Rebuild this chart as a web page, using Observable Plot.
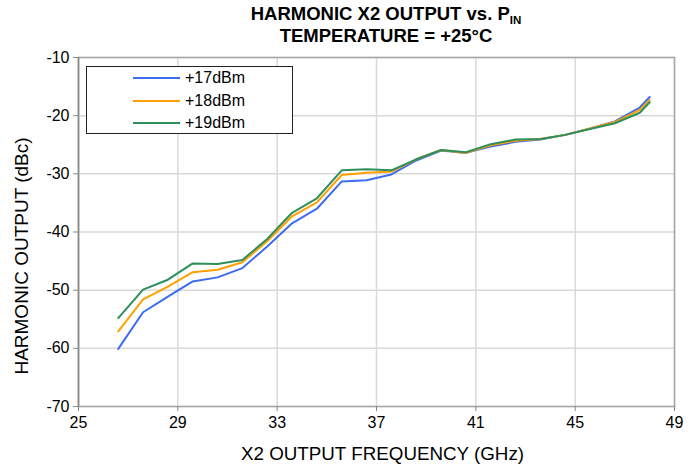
<!DOCTYPE html>
<html>
<head>
<meta charset="utf-8">
<script src="https://cdn.jsdelivr.net/npm/d3@7"></script>
<script src="https://cdn.jsdelivr.net/npm/@observablehq/plot@0.6"></script>
<style>
  html, body { margin: 0; padding: 0; background: #fff; }
  #wrap { position: relative; width: 699px; height: 467px; font-family: "Liberation Sans", Arial, sans-serif; }
  #title { position: absolute; left: 0; width: 772px; top: 3px; text-align: center; font-weight: bold; font-size: 18.5px; line-height: 22px; color: #000; }
  #title sub { font-size: 11.5px; vertical-align: -4px; line-height: 0; }
  #legend { position: absolute; left: 86px; top: 66px; width: 207px; height: 68px; border: 1px solid #222; background: #fff; box-sizing: border-box; }
  .row { position: absolute; left: 0; height: 20px; display: flex; align-items: center; font-size: 16px; color: #000; }
  .sw { position: absolute; left: 46px; width: 47px; height: 2px; }
  .lab { position: absolute; left: 98px; white-space: nowrap; }
  #chart svg { display: block; }
</style>
</head>
<body>
<div id="wrap">
  <div id="chart"></div>
  <div id="title">HARMONIC X2 OUTPUT vs. P<sub>IN</sub><br>TEMPERATURE = +25°C</div>
  <div id="legend"></div>
</div>
<script>
const freq = [26.6,27.6,28.6,29.6,30.6,31.6,32.6,33.6,34.6,35.6,36.6,37.6,38.6,39.6,40.6,41.6,42.6,43.6,44.6,45.6,46.6,47.6,48.0];
const p17 = [-60.1,-53.8,-51.1,-48.5,-47.8,-46.2,-42.5,-38.5,-36.0,-31.3,-31.1,-30.1,-27.7,-26.0,-26.4,-25.3,-24.5,-24.1,-23.3,-22.2,-21.0,-18.6,-16.8];
const p18 = [-57.1,-51.6,-49.4,-46.9,-46.5,-45.2,-41.6,-37.3,-34.9,-30.2,-29.8,-29.6,-27.5,-25.9,-26.4,-25.1,-24.3,-24.0,-23.3,-22.2,-21.1,-19.0,-17.3];
const p19 = [-54.8,-49.9,-48.2,-45.4,-45.5,-44.8,-41.2,-36.7,-34.2,-29.4,-29.2,-29.4,-27.5,-25.9,-26.3,-24.9,-24.1,-24.0,-23.3,-22.3,-21.3,-19.5,-17.7];
const seriesNames = ["+17dBm", "+18dBm", "+19dBm"];
const seriesColors = ["#3d6cf2", "#ffa000", "#2e8f5c"];
const xTicks = [25,29,33,37,41,45,49];
const yTicks = [-70,-60,-50,-40,-30,-20,-10];

const seriesVals = [p17, p18, p19];
const data = [];
seriesNames.forEach((s, i) => freq.forEach((f, j) => data.push({series: s, f, v: seriesVals[i][j]})));

const chart = Plot.plot({
  width: 699,
  height: 467,
  marginLeft: 78,
  marginRight: 25,
  marginTop: 57,
  marginBottom: 61,
  style: { fontFamily: "Liberation Sans, Arial, sans-serif", fontSize: "16px", color: "#000", background: "#fff" },
  x: { domain: [25, 49], ticks: xTicks, label: null },
  y: { domain: [-70, -10], ticks: yTicks, label: null },
  color: { domain: seriesNames, range: seriesColors },
  marks: [
    Plot.gridX(xTicks, { stroke: "#d9d9d9", strokeOpacity: 1, strokeWidth: 1.5 }),
    Plot.gridY(yTicks, { stroke: "#d9d9d9", strokeOpacity: 1, strokeWidth: 1.5 }),
    Plot.frame({ stroke: "#a6a6a6", strokeWidth: 1.5 }),
    Plot.axisX(xTicks, { tickSize: 5, tickPadding: 5, fontSize: 16, stroke: "#888", fill: "#000", tickFormat: d => String(d) }),
    Plot.axisY(yTicks, { tickSize: 5, tickPadding: 4, fontSize: 16, stroke: "#888", fill: "#000", tickFormat: d => String(d) }),
    Plot.ruleX([25], { stroke: "#888", strokeWidth: 1.5 }),
    Plot.line(data, { x: "f", y: "v", z: "series", stroke: "series", strokeWidth: 2 }),
    Plot.text(["X2 OUTPUT FREQUENCY (GHz)"], { frameAnchor: "bottom", textAnchor: "middle", dx: 6, dy: 53, fontSize: 18.8, fill: "#000" }),
    Plot.text(["HARMONIC OUTPUT (dBc)"], { frameAnchor: "left", textAnchor: "middle", dx: -57, dy: 24, rotate: -90, fontSize: 19, fill: "#000" })
  ]
});
document.getElementById("chart").appendChild(chart);

const legend = document.getElementById("legend");
seriesNames.forEach((s, i) => {
  const row = document.createElement("div");
  row.className = "row";
  row.style.top = (1 + i * 22.5) + "px";
  row.innerHTML = `<span class="sw" style="background:${seriesColors[i]}"></span><span class="lab">${s}</span>`;
  legend.appendChild(row);
});
</script>
</body>
</html>
